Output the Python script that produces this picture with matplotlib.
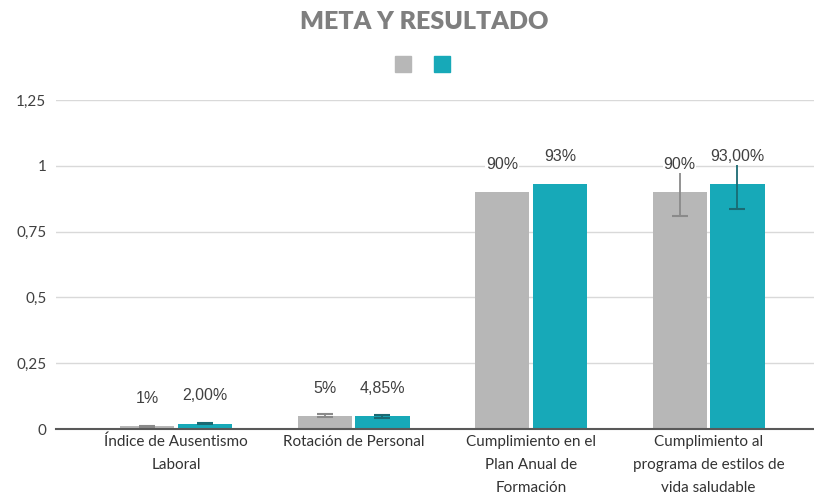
import numpy as np
import matplotlib.pyplot as plt

categories = [
    "Índice de Ausentismo\nLaboral",
    "Rotación de Personal",
    "Cumplimiento en el\nPlan Anual de\nFormación",
    "Cumplimiento al\nprograma de estilos de\nvida saludable",
]
meta = [0.01, 0.05, 0.90, 0.90]
resultado = [0.02, 0.0485, 0.93, 0.93]
meta_err = [0.001, 0.006, 0.0, 0.09]
resultado_err = [0.002, 0.005, 0.0, 0.093]
meta_labels = ["1%", "5%", "90%", "90%"]
resultado_labels = ["2,00%", "4,85%", "93%", "93,00%"]
yticks = [0, 0.25, 0.5, 0.75, 1, 1.25]
ytick_labels = ["0", "0,25", "0,5", "0,75", "1", "1,25"]

GRAY = "#b7b7b7"
TEAL = "#17a9b8"
GRAY_ERR = "#8a8a8a"
TEAL_ERR = "#1a6a73"

fig = plt.figure(figsize=(8.14, 4.98), dpi=100)
ax = fig.add_axes([56 / 814, 69 / 498, 758 / 814, 329 / 498])

x = np.arange(len(categories))
w = 0.305
off = 0.163

ax.bar(x - off, meta, w, color=GRAY, zorder=2)
ax.bar(x + off, resultado, w, color=TEAL, zorder=2)

for xs, vals, errs, col in [(x - off, meta, meta_err, GRAY_ERR),
                            (x + off, resultado, resultado_err, TEAL_ERR)]:
    for xi, v, e in zip(xs, vals, errs):
        if e > 0:
            ax.errorbar(xi, v, yerr=e, color=col, capsize=5.8, capthick=1.5,
                        elinewidth=1.3, zorder=3)

for xs, vals, labs in [(x - off, meta, meta_labels),
                       (x + off, resultado, resultado_labels)]:
    for xi, v, lab in zip(xs, vals, labs):
        ax.annotate(lab, (xi, v), xytext=(0, 20), textcoords="offset points",
                    ha="center", va="center", fontsize=11.5, color="#404040",
                    family="Liberation Sans", zorder=4,
                    bbox=dict(boxstyle="square,pad=0.05", fc="white", ec="none"))

ax.set_xlim(-0.676, 3.594)
ax.set_ylim(0, 1.25)
ax.set_yticks(yticks)
ax.set_yticklabels(ytick_labels, family="Lato", fontsize=11, color="#404040")
ax.set_xticks(x)
ax.set_xticklabels(categories, family="Lato", fontsize=11, color="#333333",
                   linespacing=1.85, va="top")
ax.tick_params(axis="y", length=0, pad=7)
ax.tick_params(axis="x", length=0, pad=4)
ax.grid(axis="y", color="#d9d9d9", linewidth=1, zorder=0)
for s in ["left", "right", "top"]:
    ax.spines[s].set_visible(False)
ax.spines["bottom"].set_color("#595959")
ax.spines["bottom"].set_linewidth(1.5)
ax.spines["bottom"].set_zorder(5)

fig.text(424 / 814, 1 - 22 / 498, "META Y RESULTADO", ha="center", va="center",
         fontsize=18, fontweight="heavy", color="#7f7f7f", family="Lato")

# legend squares without text
for cx, col in [(403, GRAY), (442, TEAL)]:
    fig.patches.append(plt.Rectangle(((cx - 8) / 814, 1 - 72 / 498), 16 / 814, 16 / 498,
                                     transform=fig.transFigure, color=col))

fig.savefig("out.png", dpi=100)
